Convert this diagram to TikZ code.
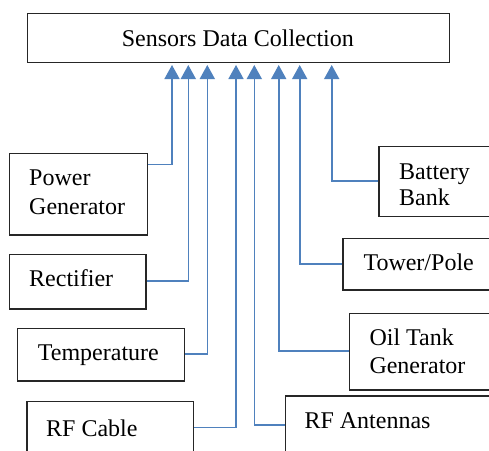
\documentclass[tikz,border=0pt]{standalone}
\usepackage{fontspec}
\setmainfont{Liberation Serif}
\usetikzlibrary{arrows.meta}
\definecolor{linkblue}{HTML}{4F81BD}
\definecolor{boxline}{HTML}{262626}
\tikzset{
  box/.style={draw=boxline, line width=1.2pt, anchor=north west, inner sep=0pt, fill=white},
  txt/.style={font=\fontsize{24}{28}\selectfont, inner sep=0pt, anchor=base west, text=black},
  conn/.style={draw=linkblue, line width=1.6pt, -{Triangle[length=14pt,width=15pt]}}
}
\begin{document}
\begin{tikzpicture}[x=1pt,y=-1pt]
\useasboundingbox (0,0) rectangle (489,450);
\clip (0,0) rectangle (489,450);
\fill[white] (0,0) rectangle (489,450);
% boxes
\node[box, minimum width=422.3pt, minimum height=49pt] (top) at (26.7,12.7) {};
\node[box, minimum width=138.3pt, minimum height=81.6pt] (pg) at (8.7,152.7) {};
\node[box, minimum width=136.6pt, minimum height=54.3pt] (rect) at (8.7,254) {};
\node[box, minimum width=166.7pt, minimum height=52.6pt] (temp) at (17,327.7) {};
\node[box, minimum width=166.4pt, minimum height=60pt] (rfc) at (26.3,401) {};
\node[box, minimum width=120pt, minimum height=70.3pt] (bat) at (378.3,145.7) {};
\node[box, minimum width=155pt, minimum height=51.3pt] (tow) at (342.3,238) {};
\node[box, minimum width=148pt, minimum height=76.6pt] (oil) at (349,312.7) {};
\node[box, minimum width=212pt, minimum height=65pt] (rfa) at (285,395.3) {};
% texts
\node[txt] (ttop) at (121.7,46.5) {Sensors Data Collection};
\node[txt] (tpg1) at (29,185.7) {Power};
\node[txt] (tpg2) at (29,214) {Generator};
\node[txt] (trect) at (29,286.7) {Rectifier};
\node[txt] (ttemp) at (37.7,360) {Temperature};
\node[txt] (trfc) at (46,436) {RF Cable};
\node[txt] (tbat1) at (399,179.3) {Battery};
\node[txt] (tbat2) at (399,205) {Bank};
\node[txt] (ttow) at (363.3,270) {Tower/Pole};
\node[txt] (toil1) at (369.3,345) {Oil Tank};
\node[txt] (toil2) at (369.3,373.3) {Generator};
\node[txt] (trfa) at (304.3,428.3) {RF Antennas};
% arrow tips
\coordinate (a1) at (172,65);
\coordinate (a2) at (188.3,65);
\coordinate (a3) at (207.3,65);
\coordinate (a4) at (236,65);
\coordinate (a5) at (254.3,65);
\coordinate (a6) at (278.7,65);
\coordinate (a7) at (299.7,65);
\coordinate (a8) at (331.7,65);
% connectors
\draw[conn] (pg.east |- 0,164.3) -| (a1);
\draw[conn] (rect.east |- 0,280.7) -| (a2);
\draw[conn] (temp.east |- 0,353.7) -| (a3);
\draw[conn] (rfc.east |- 0,427.3) -| (a4);
\draw[conn] (rfa.west |- 0,425) -| (a5);
\draw[conn] (oil.west |- 0,351) -| (a6);
\draw[conn] (tow.west |- 0,263.7) -| (a7);
\draw[conn] (bat.west |- 0,181) -| (a8);
\end{tikzpicture}
\end{document}
